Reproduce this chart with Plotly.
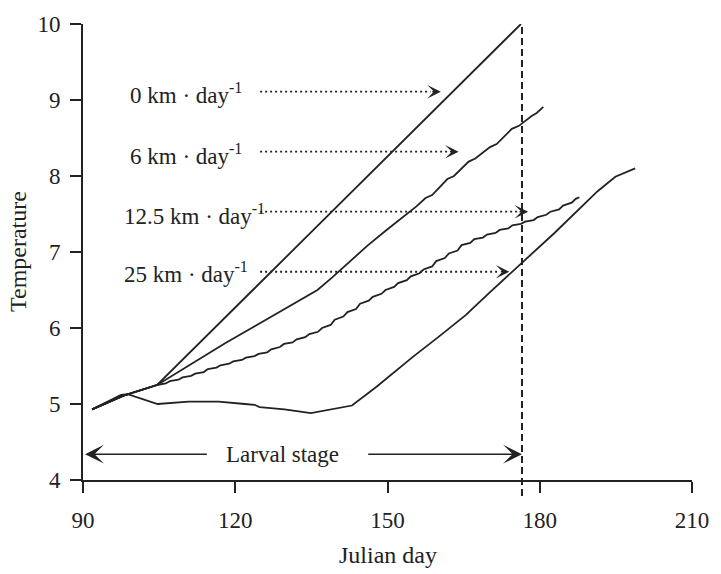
import plotly.graph_objects as go

# Water temperature encountered along drift tracks (Julian day vs temperature)
day_0km = [91.8, 98.0, 104.6, 176.3]
temp_0km = [4.93, 5.11, 5.25, 10.0]

day_6km = [91.8, 98.0, 104.6, 110.0, 118.0, 124.0, 130.0, 136.2, 139.0, 142.7,
           146.0, 150.0, 155.7, 157.5, 158.8, 161.8, 163.1, 166.0, 167.3,
           170.2, 171.5, 174.5, 175.9, 178.4, 179.4, 180.7]
temp_6km = [4.93, 5.11, 5.25, 5.47, 5.80, 6.03, 6.26, 6.50, 6.66, 6.88,
            7.08, 7.30, 7.60, 7.71, 7.75, 7.96, 8.00, 8.19, 8.23,
            8.38, 8.42, 8.62, 8.66, 8.79, 8.83, 8.91]

day_12km = [91.8, 98.0, 104.6, 106.3, 107.1, 108.8, 109.6, 111.3, 112.1, 113.8,
            114.6, 116.3, 117.1, 118.8, 119.6, 121.3, 122.1, 123.8, 124.6, 126.3,
            127.1, 128.8, 129.6, 131.3, 132.1, 133.8, 134.6, 136.3, 137.1, 138.8,
            139.6, 141.3, 142.1, 143.8, 144.6, 146.3, 147.1, 148.8, 149.6, 151.3,
            152.1, 153.8, 154.6, 156.3, 157.1, 158.8, 159.6, 161.3, 162.1, 163.8,
            164.6, 166.3, 167.1, 168.8, 169.6, 171.3, 172.1, 173.8, 174.6, 176.3,
            177.1, 178.8, 179.6, 181.3, 182.1, 183.8, 184.6, 186.3, 187.1, 187.8]
temp_12km = [4.93, 5.11, 5.25, 5.27, 5.30, 5.32, 5.35, 5.37, 5.40, 5.42,
             5.46, 5.48, 5.51, 5.53, 5.56, 5.58, 5.61, 5.63, 5.66, 5.68,
             5.72, 5.75, 5.79, 5.81, 5.85, 5.88, 5.92, 5.95, 6.00, 6.04,
             6.11, 6.15, 6.21, 6.25, 6.32, 6.36, 6.41, 6.45, 6.50, 6.54,
             6.59, 6.63, 6.68, 6.72, 6.77, 6.81, 6.88, 6.92, 6.98, 7.02,
             7.09, 7.12, 7.17, 7.19, 7.23, 7.25, 7.29, 7.31, 7.35, 7.37,
             7.40, 7.42, 7.46, 7.49, 7.53, 7.56, 7.61, 7.65, 7.70, 7.72]

day_25km = [91.8, 97.5, 98.8, 104.7, 110.8, 116.7, 121.9, 123.8, 124.8, 129.7,
            134.9, 143.0, 147.9, 155.0, 160.0, 165.4, 170.0, 175.8, 182.9, 191.4,
            194.9, 198.8]
temp_25km = [4.93, 5.12, 5.13, 5.00, 5.03, 5.03, 5.00, 4.99, 4.96, 4.93,
             4.88, 4.98, 5.23, 5.62, 5.88, 6.17, 6.46, 6.82, 7.25, 7.80,
             7.99, 8.10]

# Speed labels with dotted pointer arrows
speed_labels = ["0 km · day<sup>-1</sup>", "6 km · day<sup>-1</sup>",
                "12.5 km · day<sup>-1</sup>", "25 km · day<sup>-1</sup>"]
label_day = [98.8, 98.8, 97.6, 97.6]
label_temp = [9.08, 8.28, 7.50, 6.73]
pointer_start = [124.9, 124.9, 124.9, 124.9]
pointer_end = [160.5, 164.0, 177.7, 174.0]
pointer_temp = [9.11, 8.32, 7.53, 6.74]

# End of the larval stage
larval_end = 176.5
larval_temp = 4.34
larval_gap = [114.7, 145.9]
larval_text_day = 129.4

x_range = [90, 210]
y_range = [4, 10]
x_ticks = [90, 120, 150, 180, 210]
y_ticks = [4, 5, 6, 7, 8, 9, 10]

INK = "#222222"
FONT = "Liberation Serif, Times New Roman, serif"

fig = go.Figure()
for xs, ys in [(day_0km, temp_0km), (day_6km, temp_6km),
               (day_12km, temp_12km), (day_25km, temp_25km)]:
    fig.add_trace(go.Scatter(x=xs, y=ys, mode="lines",
                             line=dict(color=INK, width=1.8),
                             hoverinfo="skip"))

shapes = []
annotations = []

for txt, lx, ly, x0, x1, py in zip(speed_labels, label_day, label_temp,
                                   pointer_start, pointer_end, pointer_temp):
    annotations.append(dict(x=lx, y=ly, xref="x", yref="y", text=txt,
                            showarrow=False, xanchor="left", yanchor="middle",
                            font=dict(family=FONT, size=23, color=INK)))
    shapes.append(dict(type="line", xref="x", yref="y", x0=x0, x1=x1 - 2,
                       y0=py, y1=py,
                       line=dict(color=INK, width=1.8, dash="2px,3px")))
    annotations.append(dict(x=x1, y=py, xref="x", yref="y", text="",
                            showarrow=True, arrowhead=3, arrowsize=1.5,
                            arrowwidth=1.5, arrowcolor=INK, ax=-10, ay=0))

# Vertical dashed marker at the end of the larval stage (reaches below the axis)
larval_end_paper = (larval_end - x_range[0]) / (x_range[1] - x_range[0])
shapes.append(dict(type="line", xref="paper", yref="paper",
                   x0=larval_end_paper, x1=larval_end_paper, y0=-0.035, y1=1.0,
                   line=dict(color=INK, width=2, dash="7px,4px")))

# Double arrow for the larval stage
annotations.append(dict(x=90.4, y=larval_temp, xref="x", yref="y",
                        ax=larval_gap[0], ay=larval_temp, axref="x", ayref="y",
                        text="", showarrow=True, arrowhead=3, arrowsize=2.1,
                        arrowwidth=1.5, arrowcolor=INK))
annotations.append(dict(x=larval_end, y=larval_temp, xref="x", yref="y",
                        ax=larval_gap[1], ay=larval_temp, axref="x", ayref="y",
                        text="", showarrow=True, arrowhead=3, arrowsize=2.1,
                        arrowwidth=1.5, arrowcolor=INK))
annotations.append(dict(x=larval_text_day, y=larval_temp, xref="x", yref="y",
                        text="Larval stage", showarrow=False,
                        xanchor="center", yanchor="middle",
                        font=dict(family=FONT, size=23, color=INK)))

# Axis titles
annotations.append(dict(x=0.5, y=0, xref="paper", yref="paper",
                        text="Julian day", showarrow=False,
                        xanchor="center", yanchor="middle", yshift=-75,
                        font=dict(family=FONT, size=24, color=INK)))
annotations.append(dict(x=0, y=0.5, xref="paper", yref="paper",
                        text="Temperature", showarrow=False, textangle=-90,
                        xanchor="center", yanchor="middle", xshift=-65,
                        font=dict(family=FONT, size=24, color=INK)))

axis_style = dict(showline=True, linecolor=INK, linewidth=1.8,
                  ticks="outside", ticklen=11, tickwidth=1.8, tickcolor=INK,
                  showgrid=False, zeroline=False,
                  tickfont=dict(family=FONT, size=23, color=INK))

fig.update_layout(
    width=721, height=574,
    margin=dict(l=83, r=22, t=16, b=94),
    plot_bgcolor="white", paper_bgcolor="white",
    showlegend=False,
    xaxis=dict(range=x_range, tickvals=x_ticks, ticklabelstandoff=7,
               **axis_style),
    yaxis=dict(range=y_range, tickvals=y_ticks, ticklabelstandoff=5,
               **axis_style),
    shapes=shapes,
    annotations=annotations,
)

fig.write_html(
    "out.html",
    post_script="document.body.style.margin='0';"
                "document.body.style.overflow='hidden';",
)
